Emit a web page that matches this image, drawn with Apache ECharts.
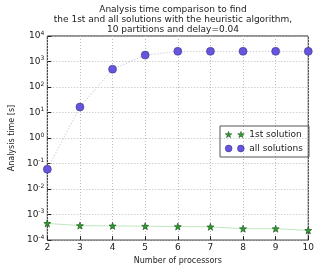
<!DOCTYPE html>
<html>
<head>
<meta charset="utf-8">
<script src="https://cdn.jsdelivr.net/npm/echarts@6/dist/echarts.min.js"></script>
<style>
  html, body { margin: 0; padding: 0; background: #fff; }
  #chart { width: 317px; height: 270px; }
</style>
</head>
<body>
<div id="chart"></div>
<script>
// processors on x, analysis time (s) on a log y axis
var processors = [2, 3, 4, 5, 6, 7, 8, 9, 10];
var firstSolution = [4.5e-4, 3.7e-4, 3.6e-4, 3.5e-4, 3.4e-4, 3.3e-4, 2.8e-4, 2.8e-4, 2.4e-4];
var allSolutions = [0.06, 16.5, 500, 1780, 2500, 2500, 2500, 2500, 2500];
var titleLines = [
  'Analysis time comparison to find',
  'the 1st and all solutions with the heuristic algorithm,',
  '10 partitions and delay=0.04'
];

var font = 'DejaVu Sans';
var star = 'path://M10,0L12.35,6.76L19.51,6.91L13.8,11.24L15.88,18.09L10,14L4.12,18.09L6.2,11.24L0.49,6.91L7.65,6.76Z';
var twoStars = 'path://M10,0L12.35,6.76L19.51,6.91L13.8,11.24L15.88,18.09L10,14L4.12,18.09L6.2,11.24L0.49,6.91L7.65,6.76Z' +
  'M46,0L48.35,6.76L55.51,6.91L49.8,11.24L51.88,18.09L46,14L40.12,18.09L42.2,11.24L36.49,6.91L43.65,6.76Z';
var twoCircles = 'path://M0,10a10,10 0 1,0 20,0a10,10 0 1,0 -20,0M36,10a10,10 0 1,0 20,0a10,10 0 1,0 -20,0';

function pairs(ys) {
  return processors.map(function (x, i) { return [x, ys[i]]; });
}

var chart = echarts.init(document.getElementById('chart'));
chart.setOption({
  animation: false,
  textStyle: { fontFamily: font },
  title: {
    text: titleLines.join('\n'),
    left: 168,
    top: 0,
    textAlign: 'center',
    textStyle: { fontFamily: font, fontSize: 9, fontWeight: 'normal', color: '#222', lineHeight: 10 }
  },
  grid: {
    left: 28, right: 8, top: 36, bottom: 23,
    show: true, borderColor: '#222', borderWidth: 1
  },
  legend: {
    orient: 'vertical',
    left: 220, top: 126,
    padding: [4, 6, 4, 5],
    itemGap: 5,
    itemWidth: 19, itemHeight: 7,
    borderColor: '#555', borderWidth: 1,
    textStyle: { fontFamily: font, fontSize: 9, color: '#222' },
    data: [
      { name: '1st solution', icon: twoStars, itemStyle: { borderWidth: 0.5 } },
      { name: 'all solutions', icon: twoCircles, itemStyle: { borderWidth: 0.5 } }
    ]
  },
  xAxis: {
    type: 'value',
    min: 2, max: 10, interval: 1,
    name: 'Number of processors',
    nameLocation: 'middle',
    nameGap: 14,
    nameTextStyle: { fontFamily: font, fontSize: 8, color: '#222' },
    axisLine: { show: false },
    axisTick: { inside: true, length: 4, lineStyle: { color: '#222' } },
    axisLabel: { fontSize: 9, color: '#222', margin: 3 },
    splitLine: { show: true, lineStyle: { color: '#bbb', type: [1, 2], width: 1 } }
  },
  yAxis: {
    type: 'log',
    logBase: 10,
    min: 1e-4, max: 1e4,
    name: 'Analysis time [s]',
    nameLocation: 'middle',
    nameGap: 21,
    nameTextStyle: { fontFamily: font, fontSize: 8, color: '#222' },
    axisLine: { show: false },
    axisTick: { inside: true, length: 4, lineStyle: { color: '#222' } },
    axisLabel: {
      margin: 3,
      color: '#222',
      formatter: function (v) {
        return '10{sup|' + Math.round(Math.log10(v)) + '}';
      },
      rich: { sup: { fontSize: 6, verticalAlign: 'top', padding: [0, 0, 6, 0], color: '#222' } },
      fontSize: 9
    },
    splitLine: { show: true, lineStyle: { color: '#bbb', type: [1, 2], width: 1 } }
  },
  series: [
    {
      name: '1st solution',
      type: 'line',
      data: pairs(firstSolution),
      symbol: star,
      symbolSize: 7,
      itemStyle: { color: '#2ca02c', borderColor: '#114411', borderWidth: 0.6 },
      lineStyle: { color: '#bfe6bf', width: 1 },
      z: 3
    },
    {
      name: 'all solutions',
      type: 'line',
      data: pairs(allSolutions),
      symbol: 'circle',
      symbolSize: 8,
      itemStyle: { color: '#6655dd', borderColor: '#332a77', borderWidth: 0.5 },
      lineStyle: { color: '#bbb', width: 1, type: [1, 2] },
      z: 3
    }
  ]
});
</script>
</body>
</html>
